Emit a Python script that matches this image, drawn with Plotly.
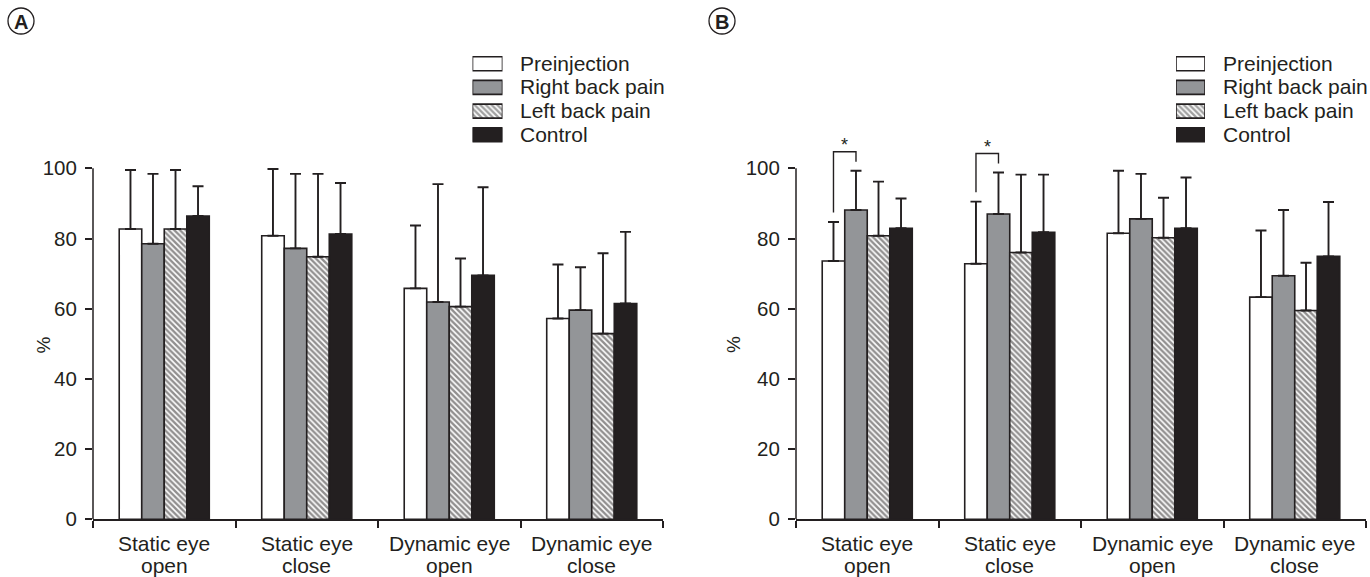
import plotly.graph_objects as go

# ---------------- data ----------------
categories = ["Static eye<br>open", "Static eye<br>close", "Dynamic eye<br>open", "Dynamic eye<br>close"]
series_names = ["Preinjection", "Right back pain", "Left back pain", "Control"]

# Panel A: means and SD (upper error)
A_pre = [82.7, 80.8, 65.8, 57.2]
A_pre_sd = [16.8, 19.0, 17.9, 15.4]
A_right = [78.5, 77.2, 61.9, 59.6]
A_right_sd = [19.9, 21.2, 33.6, 12.2]
A_left = [82.7, 74.8, 60.6, 52.9]
A_left_sd = [16.8, 23.6, 13.7, 22.9]
A_ctrl = [86.4, 81.3, 69.5, 61.5]
A_ctrl_sd = [8.5, 14.5, 25.1, 20.4]

# Panel B
B_pre = [73.6, 72.8, 81.5, 63.3]
B_pre_sd = [11.1, 17.7, 17.8, 19.0]
B_right = [88.1, 87.0, 85.6, 69.4]
B_right_sd = [11.2, 11.8, 12.8, 18.7]
B_left = [80.8, 76.0, 80.2, 59.5]
B_left_sd = [15.4, 22.2, 11.4, 13.6]
B_ctrl = [82.9, 81.8, 82.9, 74.9]
B_ctrl_sd = [8.5, 16.4, 14.5, 15.5]

# significance (panel B): category index, marker — Preinjection vs Right back pain
B_sig = [(0, "*"), (1, "*")]

y_ticks = [0, 20, 40, 60, 80, 100]
panel_labels = ["A", "B"]

# ---------------- style ----------------
INK = "#231f20"
GRAY = "#939598"
FONT = "Liberation Sans"
W, H = 1370, 577

hatch = dict(shape="\\", fgcolor=INK, bgcolor="white", size=4, solidity=0.6)
fills = [
    dict(color="white", pattern=dict(shape="")),
    dict(color=GRAY, pattern=dict(shape="")),
    dict(color="white", pattern=hatch),
    dict(color=INK, pattern=dict(shape="")),
]

fig = go.Figure()

panels = [
    ([A_pre, A_right, A_left, A_ctrl], [A_pre_sd, A_right_sd, A_left_sd, A_ctrl_sd], "x", "y"),
    ([B_pre, B_right, B_left, B_ctrl], [B_pre_sd, B_right_sd, B_left_sd, B_ctrl_sd], "x2", "y2"),
]

for means, sds, xa, ya in panels:
    for i, name in enumerate(series_names):
        f = fills[i]
        fig.add_trace(go.Bar(
            x=categories, y=means[i], name=name, showlegend=False,
            xaxis=xa, yaxis=ya,
            marker=dict(color=f["color"], pattern=f["pattern"], line=dict(color=INK, width=1.6)),
            error_y=dict(type="data", symmetric=False, array=sds[i], arrayminus=[0] * len(sds[i]),
                         color=INK, thickness=1.9, width=5.5),
            offsetgroup=str(i),
        ))

# ---------------- axes layout ----------------
def px2x(p):
    return p / W

def px2y(p):
    return 1 - p / H

y0_px = 519.3
px_per_unit = 3.51
ymax = 112
y_dom = [px2y(y0_px), px2y(y0_px - ymax * px_per_unit)]

xdomA = [px2x(93), px2x(663)]
xdomB = [px2x(796), px2x(1366)]

xax = dict(type="category", tickson="boundaries", ticks="outside", ticklen=7, tickwidth=1.5,
           tickcolor=INK, showline=True, linecolor=INK, linewidth=1.5, showgrid=False,
           showticklabels=False, automargin=False,
           range=[-0.5, 3.5], fixedrange=True)
yax = dict(range=[0, ymax], tickvals=y_ticks, ticks="outside", ticklen=7, tickwidth=1.5,
           tickcolor=INK, showline=False, showgrid=False, zeroline=False, automargin=False,
           ticklabelstandoff=4,
           tickfont=dict(family=FONT, size=20.5, color=INK), domain=y_dom, fixedrange=True)

fig.update_layout(
    width=W, height=H,
    margin=dict(l=0, r=0, t=0, b=0),
    paper_bgcolor="white", plot_bgcolor="rgba(0,0,0,0)",
    barmode="group", bargap=0.368, bargroupgap=0,
    xaxis=dict(xax, domain=xdomA, anchor="y"),
    yaxis=dict(yax, anchor="x"),
    xaxis2=dict(xax, domain=xdomB, anchor="y2"),
    yaxis2=dict(yax, anchor="x2"),
    showlegend=False,
)

shapes = []
annotations = []

# category labels (two lines each) under the axes
line_y = [543, 565]
for xr in ["x", "x2"]:
    for ci, cat in enumerate(categories):
        for li, part in enumerate(cat.split("<br>")):
            annotations.append(dict(text=part, x=ci, y=px2y(line_y[li]), xref=xr, yref="paper",
                                    showarrow=False, xanchor="center", yanchor="middle",
                                    font=dict(family=FONT, size=21, color=INK)))

# y axis lines (0 to 100 only)
for xr, yr in [("x", "y"), ("x2", "y2")]:
    shapes.append(dict(type="line", xref=f"{xr} domain", yref=yr, x0=0, x1=0, y0=0, y1=y_ticks[-1],
                       line=dict(color=INK, width=1.5)))

# y axis title "%"
for xp in [30, 733]:
    annotations.append(dict(text="%", x=px2x(xp), y=px2y(345), xref="paper", yref="paper",
                            showarrow=False, textangle=-90, font=dict(family=FONT, size=19, color=INK)))

# significance brackets in panel B
group_w = 1 - 0.368
bar_w = group_w / 4
def bar_center(cat, k):
    return cat - group_w / 2 + bar_w * (k + 0.5)

for cat, mark in B_sig:
    xl = bar_center(cat, 0)
    xr_ = bar_center(cat, 1)
    yl = B_pre[cat] + B_pre_sd[cat] + 2.7
    yr_ = B_right[cat] + B_right_sd[cat] + 2.6
    ytop = B_right[cat] + B_right_sd[cat] + 5.4
    shapes.append(dict(type="path", xref="x2", yref="y2",
                       path=f"M {xl},{yl} L {xl},{ytop} L {xr_},{ytop} L {xr_},{yr_}",
                       line=dict(color=INK, width=1.4)))
    annotations.append(dict(text=mark, x=(xl + xr_) / 2, y=ytop + 1.9, xref="x2", yref="y2",
                            showarrow=False, yanchor="middle", font=dict(family=FONT, size=18, color=INK)))

# panel letters in circles
for lab, (cx, cy) in zip(panel_labels, [(21, 21), (722, 21)]):
    shapes.append(dict(type="circle", xref="paper", yref="paper", xsizemode="pixel", ysizemode="pixel",
                       xanchor=px2x(cx), yanchor=px2y(cy), x0=-13, x1=13, y0=-13, y1=13,
                       line=dict(color=INK, width=1.3)))
    annotations.append(dict(text=f"<b>{lab}</b>", x=px2x(cx), y=px2y(cy + 0.5), xref="paper", yref="paper",
                            showarrow=False, xanchor="center", yanchor="middle",
                            font=dict(family=FONT, size=20, color=INK)))

# custom legends (box + text) via small overlay axes
row_c = [63.7, 87.4, 111.1, 134.8]
row_h = 23.7
leg_top = row_c[0] - row_h / 2
leg_bot = row_c[-1] + row_h / 2
for n, (bx0, bx1, tx) in enumerate([(472.5, 502.5, 518), (1176, 1205, 1220.5)]):
    xa = f"x{n + 3}"
    ya = f"y{n + 3}"
    fig.add_trace(go.Bar(
        x=[1] * 4, y=list(range(4)), orientation="h", base=0, width=14 / row_h,
        xaxis=xa, yaxis=ya, showlegend=False, cliponaxis=False, hoverinfo="skip",
        marker=dict(color=[f["color"] for f in fills],
                    pattern=dict(shape=[f["pattern"]["shape"] for f in fills], fgcolor=INK,
                                 bgcolor="white", size=4, solidity=0.6),
                    line=dict(color=INK, width=1.6)),
    ))
    fig.layout[f"xaxis{n + 3}"] = dict(domain=[px2x(bx0), px2x(bx1)], range=[0, 1], visible=False,
                                       anchor=ya, fixedrange=True, automargin=False)
    fig.layout[f"yaxis{n + 3}"] = dict(domain=[px2y(leg_bot), px2y(leg_top)], range=[3.5, -0.5],
                                       visible=False, anchor=xa, fixedrange=True, automargin=False)
    for i, name in enumerate(series_names):
        annotations.append(dict(text=name, x=px2x(tx), y=px2y(row_c[i] - 0.5), xref="paper", yref="paper",
                                showarrow=False, xanchor="left", yanchor="middle",
                                font=dict(family=FONT, size=21, color=INK)))

fig.update_layout(shapes=shapes, annotations=annotations)
fig.write_html("out.html", config={"displayModeBar": False},
               post_script="document.body.style.margin='0';document.body.style.overflow='hidden';")
